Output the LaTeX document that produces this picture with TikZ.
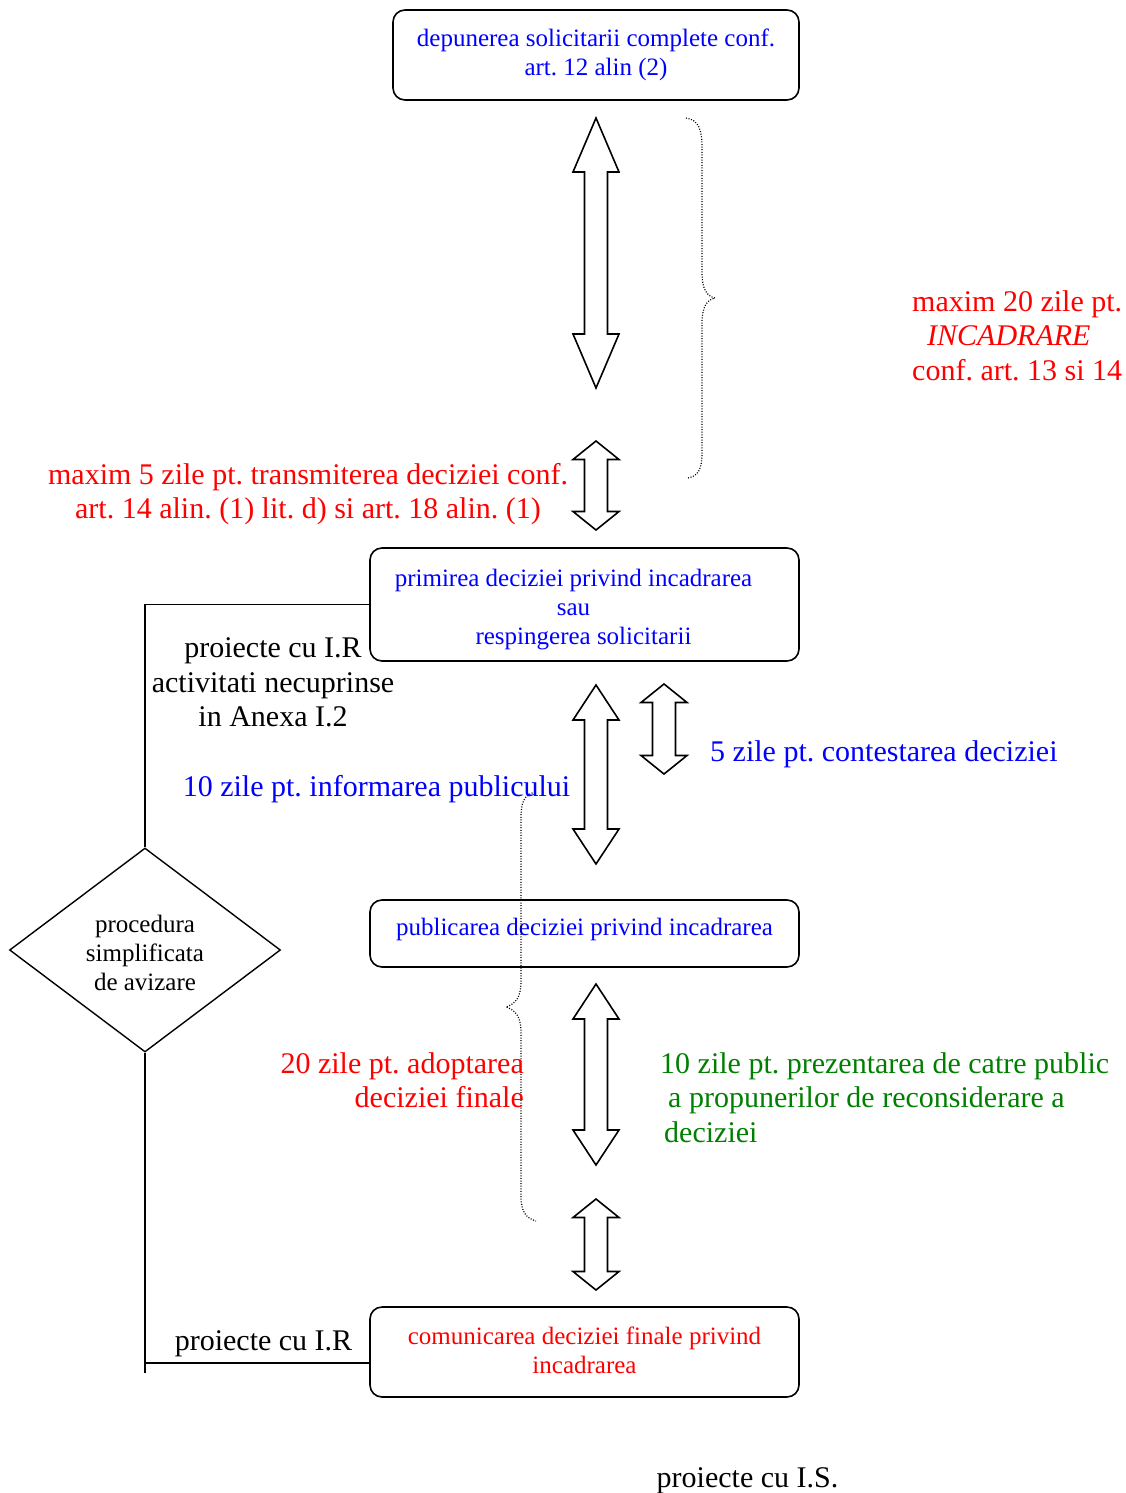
\documentclass[tikz,border=0pt]{standalone}
\usepackage{fontspec}
\setmainfont{Liberation Serif}
\usetikzlibrary{shapes.geometric}
\definecolor{tblue}{RGB}{0,0,255}
\definecolor{tred}{RGB}{255,0,0}
\definecolor{tgreen}{RGB}{0,128,0}
\newcommand\dblarr[4]{% x, ytop, ybot, head length
  \draw[arrowshape] (#1,#2) -- ({#1+23},{#2+#4}) -- ({#1+11.5},{#2+#4}) -- ({#1+11.5},{#3-#4}) -- ({#1+23},{#3-#4}) -- (#1,#3) -- ({#1-23},{#3-#4}) -- ({#1-11.5},{#3-#4}) -- ({#1-11.5},{#2+#4}) -- ({#1-23},{#2+#4}) -- cycle;}
\tikzset{
  stepbox/.style={draw, rounded corners=12pt, line width=1.6pt, inner sep=0pt, align=center,
    font=\fontsize{25}{29}\selectfont\frenchspacing},
  arrowshape/.style={draw, line width=1.6pt, line join=miter, fill=white},
  link/.style={draw, line width=1.4pt},
  bracedots/.style={line width=1.2pt, dash pattern=on 1pt off 1.6pt},
  bigtxt/.style={font=\fontsize{30}{34.5}\selectfont\frenchspacing, inner sep=0pt},
}
\begin{document}
\frenchspacing
\begin{tikzpicture}[x=1pt,y=-1pt]
\useasboundingbox (0,0) rectangle (1125,1493);
% boxes
\node[stepbox, text=tblue, minimum width=406pt, minimum height=90pt] (b1) at (596,55)
  {depunerea solicitarii complete conf.\\art. 12 alin (2)};
\node[stepbox, text=tblue, minimum width=429pt, minimum height=113pt] (b2) at (584.5,604.5)
  {\hbox{\rule{0pt}{27pt}primirea deciziei privind incadrarea\kern22pt}\\\hbox{sau\kern22pt}\\\hbox{\kern20pt respingerea solicitarii\kern22pt}};
\node[stepbox, text=tblue, minimum width=429pt, minimum height=67pt, text depth=14pt] (b3) at (584.5,933.5)
  {publicarea deciziei privind incadrarea};
\node[stepbox, text=tred, minimum width=429pt, minimum height=90pt] (b4) at (584.5,1352)
  {comunicarea deciziei finale privind\\\rule[-4pt]{0pt}{4pt}incadrarea};
% diamond
\node[diamond, draw, line width=1.4pt, minimum width=271pt, minimum height=204pt, inner sep=0pt,
  align=center, font=\fontsize{25}{29}\selectfont] (d) at (145,950)
  {\rule{0pt}{24pt}procedura\\simplificata\\de avizare};
% connectors
\coordinate (c1) at (145,604.5);
\coordinate (c2) at (145,1373);
\coordinate (c3) at (145,1363);
\draw[link] (b2.west) -- (c1) -- (d.north);
\draw[link] (d.south) -- (c2);
\draw[link] (c3) -- (b4.west |- c3);
% double arrows
\dblarr{596}{118}{388}{54}
\dblarr{596}{441}{530}{18.5}
\dblarr{596}{685}{864}{35}
\dblarr{664}{684}{774}{18.5}
\dblarr{596}{984}{1165}{35}
\dblarr{596}{1199}{1290}{18.5}
% braces
\draw[bracedots] (686,118) .. controls (699,120) and (702,130) .. (702,148) -- (702,272)
  .. controls (702,290) and (707,296) .. (715,298) .. controls (707,300) and (702,306) .. (702,324)
  -- (702,452) .. controls (702,470) and (698,476) .. (688,478);
\draw[bracedots] (535,792) .. controls (524,795) and (521,802) .. (521,818) -- (521,982)
  .. controls (521,998) and (515,1004) .. (506,1007) .. controls (515,1010) and (521,1016) .. (521,1032)
  -- (521,1196) .. controls (521,1212) and (526,1218) .. (536,1221);
% labels
\node[bigtxt, text=tred, align=left, anchor=west] (t1) at (912,335.5)
  {maxim 20 zile pt.\\\hspace*{15pt}\textit{INCADRARE}\\conf. art. 13 si 14};
\node[bigtxt, text=tred, align=center] (t2) at (308,494)
  {maxim 5 zile pt. transmiterea deciziei conf.\\art. 14 alin. (1) lit. d) si art. 18 alin. (1)};
\node[bigtxt, align=center] (t3) at (273,682.5)
  {proiecte cu I.R\\activitati necuprinse\\in Anexa I.2};
\node[bigtxt, text=tblue] (t4) at (376.5,789) {10 zile pt. informarea publicului};
\node[bigtxt, text=tblue, anchor=west] (t5) at (710,754) {5 zile pt. contestarea deciziei};
\node[bigtxt, text=tred, align=right, anchor=east] (t6) at (524,1080)
  {20 zile pt. adoptarea\\deciziei finale};
\node[bigtxt, text=tgreen, align=left, anchor=west] (t7) at (660,1097.5)
  {10 zile pt. prezentarea de catre public\\\hspace*{8pt}a propunerilor de reconsiderare a\\\hspace*{4pt}deciziei};
\node[bigtxt] (t8) at (263.5,1344) {proiecte cu I.R};
\node[bigtxt] (t9) at (747.5,1481) {proiecte cu I.S.};
\end{tikzpicture}
\end{document}
